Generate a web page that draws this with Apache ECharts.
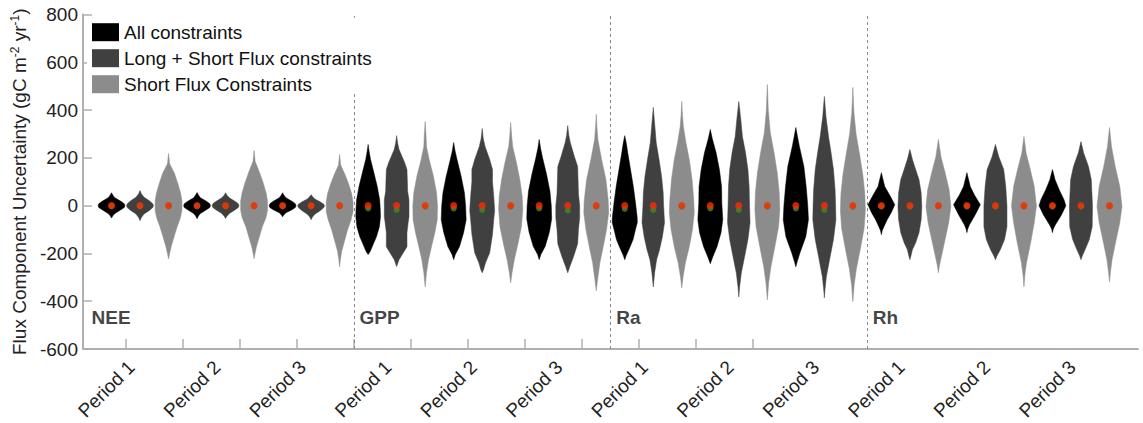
<!DOCTYPE html>
<html>
<head>
<meta charset="utf-8">
<script src="https://cdn.jsdelivr.net/npm/echarts@6/dist/echarts.min.js"></script>
<style>
html,body{margin:0;padding:0;background:#fff;}
#chart{width:1143px;height:423px;}
</style>
</head>
<body>
<div id="chart"></div>
<script>
// ---------------- DATA ----------------
const components = ['NEE', 'GPP', 'Ra', 'Rh'];
const periods = ['Period 1', 'Period 2', 'Period 3'];
const constraintNames = ['All constraints', 'Long + Short Flux constraints', 'Short Flux Constraints'];
const yTicks = [-600, -400, -200, 0, 200, 400, 600, 800];

// Violin outlines: [value, relative half-width] from top to bottom, one per period
const neeAll = [
  [[54,0],[44,0.1],[33,0.25],[18,0.7],[8,0.95],[0,1],[-8,0.95],[-17,0.7],[-33,0.25],[-42,0.1],[-52,0]],
  [[55,0],[45,0.1],[33,0.25],[18,0.7],[8,0.95],[0,1],[-8,0.95],[-17,0.7],[-33,0.25],[-43,0.1],[-55,0]],
  [[54,0],[44,0.1],[33,0.25],[18,0.7],[8,0.95],[0,1],[-8,0.95],[-17,0.7],[-30,0.25],[-38,0.1],[-47,0]]
];
const neeLongShort = [
  [[63,0],[50,0.1],[35,0.3],[20,0.7],[8,0.95],[0,1],[-8,0.95],[-20,0.7],[-35,0.3],[-50,0.1],[-63,0]],
  [[54,0],[44,0.1],[33,0.28],[18,0.7],[8,0.95],[0,1],[-8,0.95],[-18,0.7],[-33,0.28],[-44,0.1],[-54,0]],
  [[46,0],[38,0.1],[28,0.28],[15,0.7],[6,0.95],[0,1],[-8,0.95],[-20,0.7],[-36,0.28],[-48,0.1],[-59,0]]
];
const neeShort = [
  [[218,0],[175,0.08],[137,0.43],[95,0.68],[53,0.9],[20,1],[-20,1],[-52,0.88],[-87,0.65],[-129,0.42],[-171,0.2],[-200,0.08],[-223,0]],
  [[231,0],[185,0.08],[140,0.4],[95,0.68],[53,0.9],[20,1],[-20,1],[-52,0.88],[-87,0.62],[-129,0.4],[-171,0.18],[-200,0.07],[-222,0]],
  [[214,0],[170,0.08],[130,0.4],[90,0.68],[50,0.9],[15,1],[-25,1],[-60,0.85],[-100,0.6],[-145,0.38],[-190,0.16],[-225,0.06],[-256,0]]
];
const gppAll = [
  [[256,0],[225,0.08],[193,0.18],[138,0.43],[80,0.68],[25,0.86],[-10,0.9],[-46,0.92],[-88,0.84],[-130,0.62],[-163,0.37],[-192,0.15],[-205,0]],
  [[264,0],[230,0.1],[193,0.25],[122,0.56],[54,0.8],[0,0.89],[-59,0.93],[-113,0.74],[-172,0.43],[-205,0.12],[-226,0]],
  [[277,0],[240,0.1],[200,0.25],[130,0.55],[60,0.8],[0,0.9],[-55,0.93],[-110,0.76],[-170,0.45],[-205,0.12],[-226,0]]
];
const gppLongShort = [
  [[293,0],[260,0.08],[235,0.18],[180,0.6],[151,0.77],[100,0.8],[60,0.82],[25,0.92],[-46,0.92],[-71,0.86],[-113,0.77],[-172,0.77],[-197,0.5],[-226,0.18],[-255,0]],
  [[323,0],[280,0.08],[247,0.22],[193,0.56],[151,0.77],[100,0.77],[40,0.86],[-20,0.93],[-60,0.86],[-120,0.77],[-197,0.56],[-239,0.25],[-268,0.1],[-281,0]],
  [[335,0],[295,0.08],[264,0.19],[205,0.5],[164,0.74],[110,0.77],[50,0.8],[0,0.89],[-50,0.89],[-100,0.8],[-160,0.74],[-214,0.43],[-256,0.15],[-281,0]]
];
const gppShort = [
  [[352,0],[300,0.06],[247,0.1],[193,0.3],[122,0.62],[54,0.85],[0,0.92],[-59,0.9],[-113,0.72],[-172,0.47],[-226,0.25],[-281,0.1],[-340,0]],
  [[348,0],[300,0.06],[247,0.15],[180,0.43],[109,0.68],[38,0.86],[-17,0.9],[-88,0.8],[-155,0.56],[-226,0.27],[-281,0.1],[-323,0]],
  [[382,0],[330,0.05],[277,0.12],[193,0.4],[109,0.72],[25,0.89],[-29,0.93],[-100,0.77],[-172,0.52],[-239,0.27],[-310,0.1],[-356,0]]
];
const raAll = [
  [[293,0],[260,0.12],[222,0.22],[151,0.43],[80,0.64],[13,0.8],[-46,0.92],[-70,0.94],[-100,0.8],[-142,0.62],[-184,0.31],[-210,0.1],[-226,0]],
  [[319,0],[280,0.15],[222,0.43],[151,0.68],[80,0.84],[10,0.86],[-59,0.93],[-113,0.8],[-172,0.5],[-214,0.19],[-243,0]],
  [[327,0],[290,0.12],[247,0.27],[164,0.6],[80,0.77],[0,0.89],[-59,0.94],[-130,0.74],[-197,0.31],[-235,0.1],[-256,0]]
];
const raLongShort = [
  [[411,0],[331,0.12],[264,0.22],[193,0.43],[122,0.62],[54,0.74],[0,0.77],[-71,0.84],[-130,0.68],[-184,0.47],[-226,0.25],[-281,0.1],[-340,0]],
  [[436,0],[360,0.15],[289,0.27],[222,0.5],[151,0.68],[80,0.77],[0,0.8],[-71,0.84],[-142,0.68],[-214,0.43],[-281,0.19],[-340,0.06],[-382,0]],
  [[457,0],[373,0.12],[289,0.31],[222,0.5],[151,0.68],[67,0.8],[0,0.84],[-59,0.86],[-142,0.68],[-214,0.43],[-298,0.15],[-350,0.05],[-386,0]]
];
const raShort = [
  [[436,0],[380,0.05],[331,0.12],[264,0.31],[193,0.56],[109,0.77],[25,0.89],[-29,0.93],[-100,0.8],[-172,0.56],[-239,0.27],[-298,0.1],[-344,0]],
  [[507,0],[450,0.04],[402,0.07],[306,0.22],[222,0.5],[138,0.74],[54,0.89],[-17,0.93],[-88,0.84],[-172,0.56],[-256,0.27],[-323,0.1],[-394,0]],
  [[495,0],[440,0.04],[390,0.08],[300,0.24],[215,0.5],[130,0.74],[50,0.89],[-20,0.93],[-95,0.84],[-180,0.56],[-262,0.27],[-330,0.1],[-402,0]]
];
const rhAll = [
  [[138,0],[110,0.12],[80,0.25],[38,0.68],[4,1],[-29,0.74],[-59,0.43],[-88,0.19],[-105,0.06],[-122,0]],
  [[138,0],[110,0.12],[80,0.25],[45,0.56],[4,1],[-38,0.62],[-80,0.19],[-98,0.06],[-113,0]],
  [[151,0],[130,0.1],[109,0.19],[67,0.5],[25,0.86],[0,1],[-38,0.68],[-80,0.22],[-98,0.06],[-113,0]]
];
const rhLongShort = [
  [[235,0],[193,0.19],[151,0.43],[109,0.68],[54,0.84],[-4,0.89],[-59,0.84],[-113,0.68],[-155,0.43],[-184,0.19],[-210,0.08],[-226,0]],
  [[256,0],[205,0.25],[151,0.62],[80,0.77],[0,0.86],[-88,0.86],[-142,0.68],[-184,0.37],[-210,0.12],[-226,0]],
  [[268,0],[222,0.19],[164,0.56],[109,0.77],[0,0.86],[-88,0.84],[-142,0.62],[-184,0.31],[-210,0.1],[-226,0]]
];
const rhShort = [
  [[277,0],[205,0.19],[138,0.5],[67,0.8],[-4,0.93],[-71,0.77],[-142,0.5],[-214,0.22],[-250,0.08],[-281,0]],
  [[289,0],[220,0.16],[150,0.48],[80,0.77],[0,0.93],[-71,0.77],[-155,0.5],[-239,0.19],[-290,0.07],[-340,0]],
  [[327,0],[247,0.15],[164,0.43],[80,0.77],[-4,0.93],[-71,0.77],[-142,0.5],[-226,0.19],[-280,0.07],[-319,0]]
];

// medians (red) and means (green), order: NEE P1-3, GPP P1-3, Ra P1-3, Rh P1-3
const medianAll       = [0,0,0, 0,0,0, 0,0,0, 0,0,0];
const medianLongShort = [0,0,0, 0,0,0, 0,0,0, 0,0,0];
const medianShort     = [0,0,0, 0,0,0, 0,0,0, 0,0,0];
const meanAll       = [-2,-2,-2, -12,-12,-12, -14,-12,-12, -3,-3,-3];
const meanLongShort = [-2,-2,-2, -18,-18,-20, -18,-18,-18, -4,-4,-4];
const meanShort     = [-2,-2,-2, -4,-4,-4, -4,-4,-4, -3,-3,-3];

// ---------------- LAYOUT / STYLE ----------------
const profiles = [
  [neeAll, neeLongShort, neeShort],
  [gppAll, gppLongShort, gppShort],
  [raAll, raLongShort, raShort],
  [rhAll, rhLongShort, rhShort]
];
const medians = [medianAll, medianLongShort, medianShort];
const means = [meanAll, meanLongShort, meanShort];
const colors = ['#000000', '#404040', '#8c8c8c'];
const HALF = 0.47;
const LABEL_SHIFT = 0.3;   // rotated period labels sit slightly left of group centre
const FONT = '"Liberation Sans", Arial, Helvetica, sans-serif';
const nTypes = constraintNames.length;
const perComp = periods.length * nTypes;           // 9 violins per component
const pos = (ci, pi, t) => ci * perComp + pi * nTypes + t + 1;
const xMax = components.length * perComp + 1;

const tickPositions = [];
for (let k = 0; k < components.length * periods.length; k++) tickPositions.push(1.5 + 2 * k);
const labelPositions = [];
components.forEach((c, ci) => periods.forEach((p, pi) => labelPositions.push(pos(ci, pi, 1) - LABEL_SHIFT)));
const dividers = components.slice(1).map((c, i) => (i + 1) * perComp + 0.5);

function violinSeries(t) {
  const data = [];
  components.forEach((c, ci) => periods.forEach((p, pi) => data.push([pos(ci, pi, t), ci, pi])));
  return {
    type: 'custom',
    name: constraintNames[t],
    itemStyle: { color: colors[t] },
    z: 2,
    data: data,
    renderItem: function (params, api) {
      const x = api.value(0), ci = api.value(1), pi = api.value(2);
      const prof = profiles[ci][t][pi];
      const right = prof.map(p => api.coord([x + p[1] * HALF, p[0]]));
      const left = prof.slice().reverse().map(p => api.coord([x - p[1] * HALF, p[0]]));
      return {
        type: 'polygon',
        shape: { points: right.concat(left) },
        style: { fill: colors[t], stroke: colors[t], lineWidth: 0.5 }
      };
    }
  };
}

function dotSeries(arrs, color, z, size) {
  const data = [];
  arrs.forEach((arr, t) => components.forEach((c, ci) => periods.forEach((p, pi) => {
    data.push([pos(ci, pi, t), arr[ci * periods.length + pi]]);
  })));
  return {
    type: 'scatter', data: data, symbol: 'circle', symbolSize: size,
    itemStyle: { color: color }, z: z, silent: true
  };
}

const gray = '#b0b0b0';
const series = [0, 1, 2].map(violinSeries);
const meanS = dotSeries(means, '#2f8f2f', 3, 6);
meanS.markLine = {
  silent: true, symbol: 'none', label: { show: false }, z: 1,
  lineStyle: { color: '#8a8a8a', type: [3, 3], width: 1 },
  data: dividers.map(x => [{ coord: [x, yTicks[0]] }, { coord: [x, yTicks[yTicks.length - 1]] }])
};
series.push(meanS);
series.push(dotSeries(medians, '#ff2a00', 4, 7));
series.push({
  type: 'scatter', symbolSize: 0, silent: true, z: 5,
  data: components.map((c, ci) => ({ value: [ci === 0 ? 0.3 : ci * perComp + 0.7, -470], name: c })),
  label: {
    show: true, position: 'right', distance: 0, formatter: p => p.name,
    fontFamily: FONT, fontSize: 19, fontWeight: 'bold', color: '#111'
  }
});

const chart = echarts.init(document.getElementById('chart'), null, { renderer: 'svg' });
chart.setOption({
  animation: false,
  backgroundColor: '#fff',
  grid: { left: 83, right: 5, top: 14.5, bottom: 74 },
  legend: {
    data: constraintNames.map(n => ({ name: n, icon: 'rect' })),
    orient: 'vertical', left: 87, top: 17.7, z: 10,
    itemWidth: 27, itemHeight: 18, itemGap: 7,
    backgroundColor: '#fff', padding: [5, 6, 0, 5],
    selectedMode: false,
    textStyle: { fontFamily: FONT, fontSize: 19, color: '#111' }
  },
  xAxis: {
    type: 'value', min: 0, max: xMax,
    axisLine: { show: true, onZero: false, lineStyle: { color: gray, width: 2 } },
    axisTick: { show: true, inside: true, length: 10, customValues: tickPositions, lineStyle: { color: gray, width: 1.5 } },
    axisLabel: {
      customValues: labelPositions, rotate: 45, margin: 15,
      formatter: v => periods[Math.round((v + LABEL_SHIFT - 2) / 3) % periods.length],
      fontFamily: FONT, fontSize: 19, color: '#222'
    },
    splitLine: { show: false }
  },
  yAxis: {
    type: 'value', min: yTicks[0], max: yTicks[yTicks.length - 1], interval: 200,
    axisLine: { show: true, onZero: false, lineStyle: { color: gray, width: 2 } },
    axisTick: { show: true, inside: true, length: 9, lineStyle: { color: gray, width: 1.5 } },
    axisLabel: { margin: 5, fontFamily: FONT, fontSize: 19, color: '#222' },
    splitLine: { show: false },
    name: '{t|Flux Component Uncertainty (gC m}{s|-2}{t| yr}{s|-1}{t|)}',
    nameLocation: 'middle', nameGap: 46,
    nameTextStyle: {
      rich: {
        t: { fontFamily: FONT, fontSize: 19, color: '#222', lineHeight: 22 },
        s: { fontFamily: FONT, fontSize: 12, color: '#222', verticalAlign: 'top', lineHeight: 12 }
      }
    }
  },
  series: series
});
</script>
</body>
</html>
